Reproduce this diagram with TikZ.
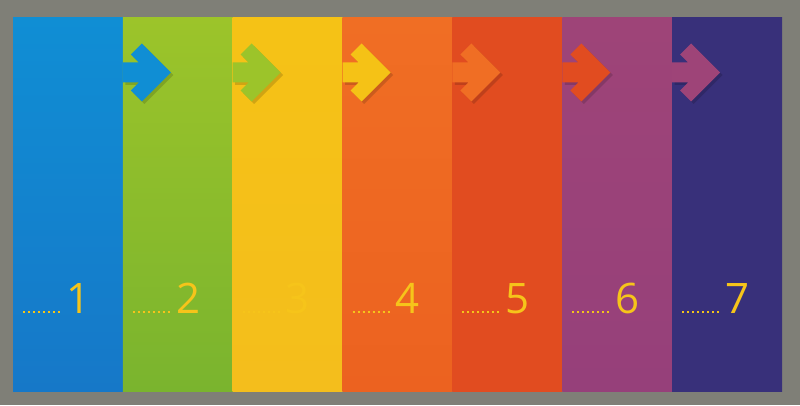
\documentclass[tikz,border=0pt]{standalone}
\usepackage{fontspec}
\setmainfont{Open Sans}
\definecolor{bgc}{RGB}{127,127,119}
\definecolor{numc}{RGB}{246,196,26}
\definecolor{ta}{RGB}{16,142,212}\definecolor{ba}{RGB}{22,120,200}
\definecolor{tb}{RGB}{156,196,42}\definecolor{bb}{RGB}{122,180,46}
\definecolor{tc}{RGB}{245,194,22}\definecolor{bc}{RGB}{244,190,28}
\definecolor{td}{RGB}{240,110,36}\definecolor{bd}{RGB}{236,98,32}
\definecolor{te}{RGB}{225,76,32}\definecolor{be}{RGB}{225,76,32}
\definecolor{tf}{RGB}{158,68,120}\definecolor{bf}{RGB}{150,64,122}
\definecolor{tg}{RGB}{56,48,122}\definecolor{bg}{RGB}{56,48,122}
\tikzset{
  barbox/.style={rectangle, inner sep=0pt, outer sep=0pt, minimum width=109.9pt, minimum height=373pt, anchor=north west},
  numlabel/.style={text=numc, font=\fontsize{42}{42}\selectfont, inner sep=0pt, anchor=base west},
  dotline/.style={draw=numc, line width=2pt, dash pattern=on 2pt off 3pt},
  arrowshape/.style={draw=none},
  arrowshadow/.style={fill=black, opacity=0.15}
}
\begin{document}
\begin{tikzpicture}[x=1pt,y=1pt]
\fill[bgc] (0,0) rectangle (800,405);
\useasboundingbox (0,0) rectangle (800,405);
\foreach \i/\c in {1/a,2/b,3/c,4/d,5/e,6/f,7/g}{
  \node[barbox, top color=t\c, bottom color=b\c] (bar\i) at ({13+109.86*(\i-1)},387) {};
}
% arrows: color of previous bar, placed at the boundary
\foreach \i/\c in {1/a,2/b,3/c,4/d,5/e,6/f}{
  \pgfmathtruncatemacro{\j}{\i+1}
  \coordinate (arr\i) at ([yshift=-54.5pt]bar\j.north west);
  \fill[arrowshadow] ([shift={(2.5,-2.5)}]arr\i) ++(0,10) -- ++(16,0) -- ++(-8,8) -- ++(11,11) -- ++(29,-29) -- ++(-29,-29) -- ++(-11,11) -- ++(8,8) -- ++(-16,0) -- cycle;
  \fill[fill=t\c, arrowshape] (arr\i) ++(0,10) -- ++(16,0) -- ++(-8,8) -- ++(11,11) -- ++(29,-29) -- ++(-29,-29) -- ++(-11,11) -- ++(8,8) -- ++(-16,0) -- cycle;
}
\foreach \i in {1,...,7}{
  \coordinate (ds\i) at ([shift={(10,-293.7)}]bar\i.north west);
  \coordinate (de\i) at ([shift={(49,-293.7)}]bar\i.north west);
  \draw[dotline] (ds\i) -- (de\i);
  \node[numlabel] (num\i) at ([shift={(53,-295)}]bar\i.north west) {\i};
}
\end{tikzpicture}
\end{document}
